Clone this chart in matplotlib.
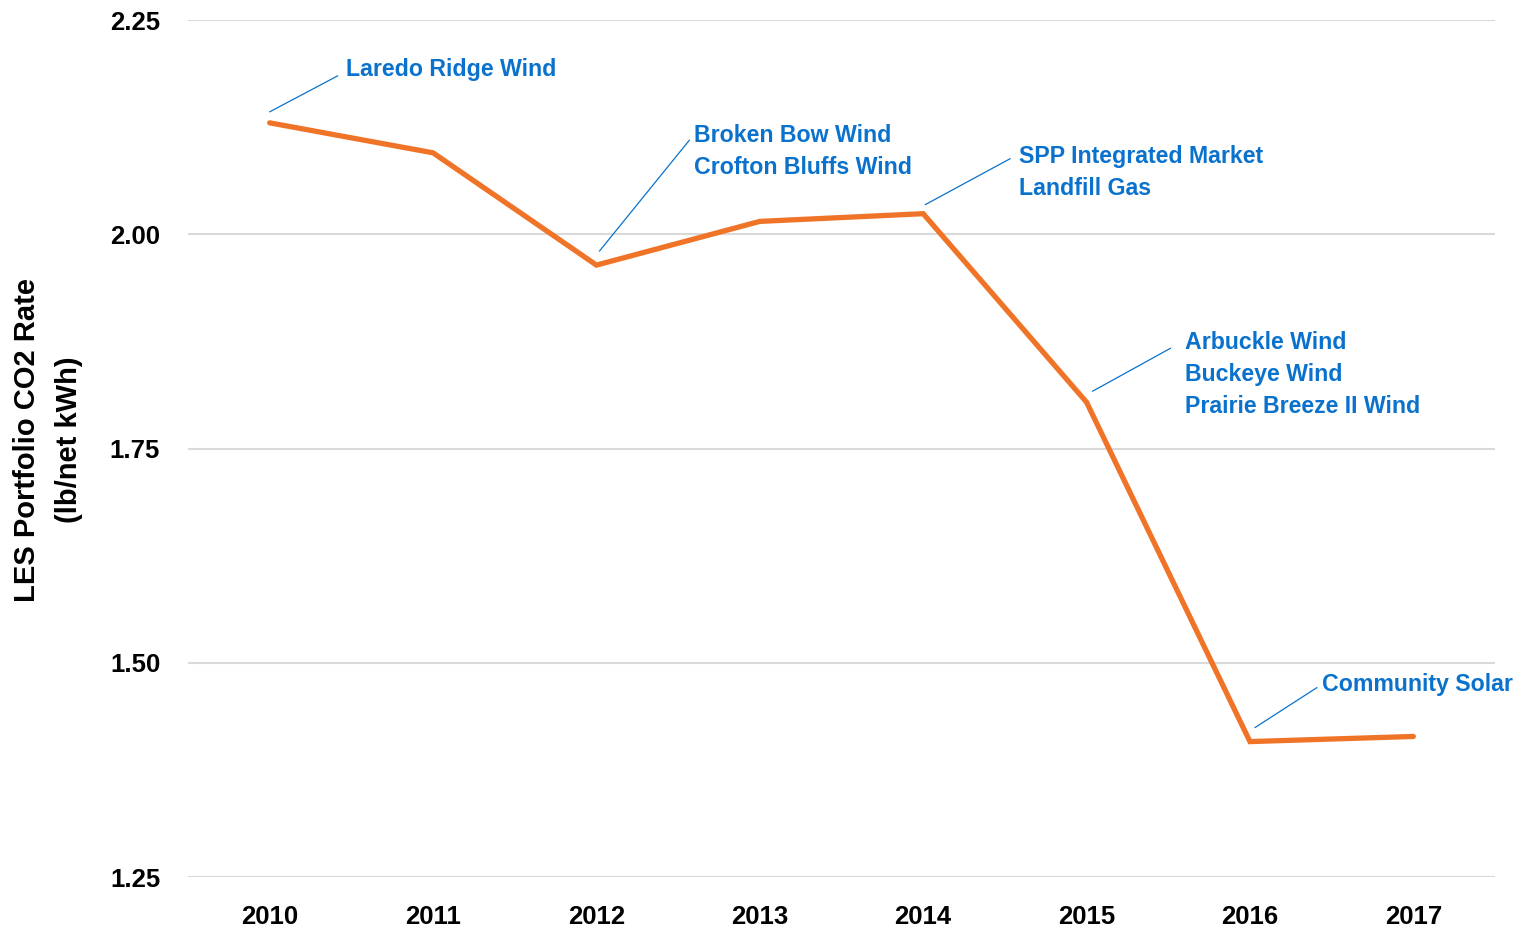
import matplotlib
matplotlib.use("Agg")
import matplotlib.pyplot as plt
from matplotlib.transforms import offset_copy

# data
years = ["2010", "2011", "2012", "2013", "2014", "2015", "2016", "2017"]
co2_rate = [2.130, 2.095, 1.964, 2.015, 2.024, 1.804, 1.408, 1.414]

# annotations: (year index, text)
notes = [
    (0, "Laredo Ridge Wind"),
    (2, "Broken Bow Wind\nCrofton Bluffs Wind"),
    (4, "SPP Integrated Market\nLandfill Gas"),
    (5, "Arbuckle Wind\nBuckeye Wind\nPrairie Breeze II Wind"),
    (6, "Community Solar"),
]
# layout of each note, pixel offsets from the point: leader start, leader end, text top-left
note_layout = [
    ((0, 11), (68, 47), (76, 65)),
    ((3, 14), (93, 125), (98, 141)),
    ((2, 9), (87, 55), (96, 69)),
    ((6, 11), (84, 54), (98, 71)),
    ((5, 14), (67, 54), (72, 69)),
]

ORANGE = "#F07427"
BLUE = "#0A72CC"
plt.rcParams["font.family"] = ["Liberation Sans", "DejaVu Sans"]

fig = plt.figure(figsize=(15.25, 9.3), dpi=100)
ax = fig.add_axes([188 / 1525, 1 - 877 / 930, 1307 / 1525, 857 / 930])

x = list(range(len(years)))
ax.plot(x, co2_rate, color=ORANGE, lw=3.8, solid_capstyle="round", solid_joinstyle="miter", zorder=3)

ax.set_xlim(-0.5, len(years) - 0.5)
ax.set_ylim(1.25, 2.25)
ax.set_yticks([1.25, 1.50, 1.75, 2.00, 2.25])
ax.set_yticklabels(["%.2f" % v for v in [1.25, 1.50, 1.75, 2.00, 2.25]])
ax.set_xticks(x)
ax.set_xticklabels(years)
ax.grid(axis="y", color="#D9D9D9", lw=1.5, zorder=0)
ax.set_axisbelow(True)
for s in ax.spines.values():
    s.set_visible(False)
ax.tick_params(axis="both", length=0, labelsize=18.5)
ax.tick_params(axis="x", pad=20)
ax.tick_params(axis="y", pad=20)
for lab in ax.get_xticklabels() + ax.get_yticklabels():
    lab.set_fontweight("bold")

ax.set_ylabel("LES Portfolio CO2 Rate\n(lb/net kWh)", fontsize=21, fontweight="bold", linespacing=1.65)
ax.yaxis.set_label_coords(-0.080, 0.51)

for (i, txt), ((sx, sy), (ex, ey), (tx, ty)) in zip(notes, note_layout):
    start_tr = offset_copy(ax.transData, fig=fig, x=sx, y=sy, units="dots")
    ax.annotate("", xy=(i, co2_rate[i]), xycoords=start_tr,
                xytext=(ex - sx, ey - sy), textcoords="offset pixels",
                arrowprops=dict(arrowstyle="-", color=BLUE, lw=0.9, shrinkA=0, shrinkB=0),
                annotation_clip=False)
    ax.annotate(txt, xy=(i, co2_rate[i]), xytext=(tx, ty), textcoords="offset pixels",
                ha="left", va="top", color=BLUE, fontsize=16.7, fontweight="bold",
                linespacing=1.5, annotation_clip=False)

fig.savefig("out.png", dpi=100)
